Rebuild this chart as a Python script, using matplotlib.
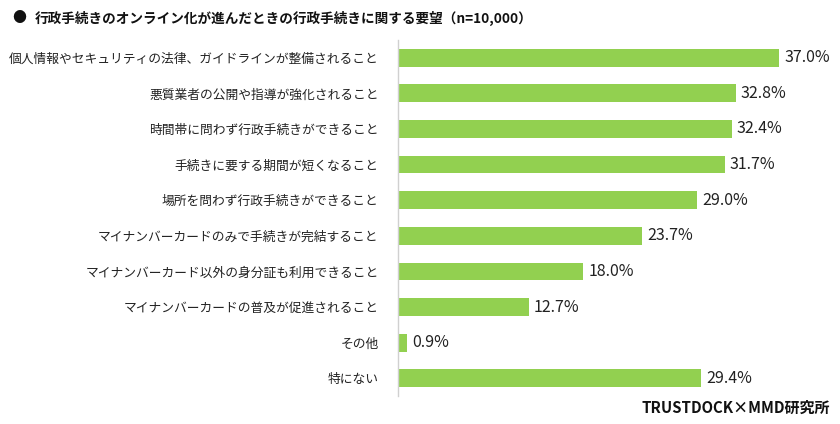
import matplotlib
matplotlib.use("Agg")
import matplotlib.pyplot as plt

plt.rcParams['font.family'] = ['Noto Sans CJK JP', 'DejaVu Sans']

categories = [
    "個人情報やセキュリティの法律、ガイドラインが整備されること",
    "悪質業者の公開や指導が強化されること",
    "時間帯に問わず行政手続きができること",
    "手続きに要する期間が短くなること",
    "場所を問わず行政手続きができること",
    "マイナンバーカードのみで手続きが完結すること",
    "マイナンバーカード以外の身分証も利用できること",
    "マイナンバーカードの普及が促進されること",
    "その他",
    "特にない",
]
values = [37.0, 32.8, 32.4, 31.7, 29.0, 23.7, 18.0, 12.7, 0.9, 29.4]
title = "行政手続きのオンライン化が進んだときの行政手続きに関する要望（n=10,000）"
source = "TRUSTDOCK×MMD研究所"

W, H = 840, 424
fig = plt.figure(figsize=(W / 100, H / 100), dpi=100)
ax_left, ax_right = 398, 830.6
ax_top, ax_bot = 40, 396
ax = fig.add_axes([ax_left / W, 1 - ax_bot / H, (ax_right - ax_left) / W, (ax_bot - ax_top) / H])

ypos = list(range(len(categories)))
ax.barh(ypos, values, height=0.5, color="#92D050")
ax.set_ylim(len(categories) - 0.5, -0.5)
ax.set_xlim(0, 42)
for y, v in zip(ypos, values):
    ax.text(v + 0.5, y, f"{v:.1f}%", va="center", ha="left", fontsize=11.5, color="#222222")

ax.set_yticks(ypos)
ax.set_yticklabels(categories, fontsize=9.2, color="#222222")
ax.tick_params(axis="y", length=0, pad=14)
ax.set_xticks([])
for s in ["top", "right", "bottom"]:
    ax.spines[s].set_visible(False)
ax.spines["left"].set_color("#d0d0d0")
ax.spines["left"].set_linewidth(1)

fig.text(12 / W, 1 - 18 / H, "●", fontsize=10, va="center", ha="left", color="#111111")
fig.text(35 / W, 1 - 18 / H, title, fontsize=9.8, fontweight="bold", va="center", ha="left", color="#111111")
fig.text(830 / W, 1 - 408 / H, source, fontsize=10.8, fontweight="bold", va="center", ha="right", color="#111111")

fig.savefig("out.png", dpi=100)
